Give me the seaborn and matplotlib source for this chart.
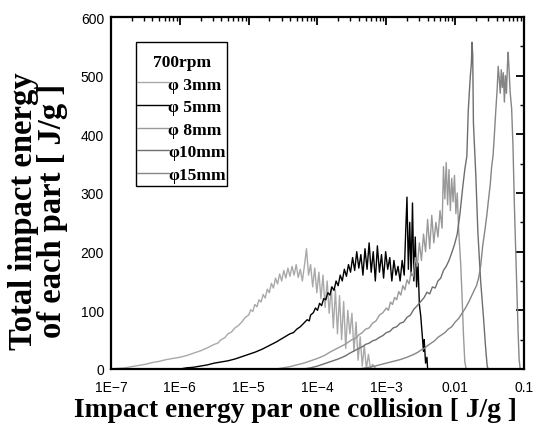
import numpy as np
import pandas as pd
import matplotlib
matplotlib.use("Agg")
import matplotlib.pyplot as plt
import seaborn as sns
from matplotlib.patches import Rectangle
from matplotlib.lines import Line2D
from matplotlib.ticker import LogLocator, NullFormatter, MultipleLocator, FixedLocator, FixedFormatter

# ---------------- data (log10 of impact energy, total impact energy) ----------------
series_names = ["φ 3mm", "φ 5mm", "φ 8mm", "φ10mm", "φ15mm"]
series_colors = ["#a9a9a9", "#000000", "#9a9a9a", "#6e6e6e", "#858585"]

log_e_3mm = [-7.00, -6.90, -6.80, -6.70, -6.60, -6.50, -6.40, -6.30, -6.20, -6.10, -6.00, -5.90, -5.80,
             -5.70, -5.60, -5.50, -5.45, -5.40, -5.35, -5.30, -5.25, -5.20, -5.15, -5.10, -5.05, -5.00,
             -4.97, -4.94, -4.91, -4.88, -4.85, -4.82, -4.79, -4.76, -4.73, -4.70, -4.67, -4.64, -4.61,
             -4.58, -4.55, -4.52, -4.49, -4.46, -4.43, -4.40, -4.37, -4.34, -4.31, -4.28, -4.25, -4.22,
             -4.19, -4.16, -4.13, -4.10, -4.07, -4.04, -4.01, -3.98, -3.95, -3.92, -3.89, -3.86, -3.83,
             -3.80, -3.77, -3.74, -3.71, -3.68, -3.65, -3.62, -3.59, -3.56, -3.53, -3.50, -3.47, -3.44,
             -3.41, -3.38, -3.35, -3.32, -3.29, -3.26, -3.23, -3.20, -3.15, -1.00]
total_3mm = [0, 1, 2, 4, 6, 8, 11, 13, 16, 18, 20, 23, 27,
             31, 36, 42, 44, 50, 53, 60, 63, 70, 74, 80, 88, 92,
             101, 98, 110, 106, 118, 114, 127, 121, 136, 130, 146, 138, 155,
             145, 162, 150, 168, 155, 172, 158, 175, 160, 178, 156, 170, 150,
             176, 205, 160, 178, 140, 172, 130, 165, 120, 160, 105, 150, 95,
             140, 70, 135, 60, 125, 50, 115, 35, 100, 60, 95, 30, 80,
             15, 55, 5, 40, 0, 25, 0, 8, 0, 0]

log_e_5mm = [-7.00, -6.00, -5.90, -5.80, -5.70, -5.60, -5.50, -5.40, -5.30, -5.20, -5.10, -5.00, -4.90,
             -4.80, -4.70, -4.60, -4.50, -4.40, -4.35, -4.30, -4.25, -4.20, -4.15, -4.12, -4.10, -4.06,
             -4.03, -4.00, -3.97, -3.94, -3.91, -3.88, -3.85, -3.82, -3.79, -3.76, -3.73, -3.70, -3.67,
             -3.64, -3.61, -3.58, -3.55, -3.52, -3.49, -3.46, -3.43, -3.40, -3.37, -3.34, -3.31, -3.28,
             -3.25, -3.22, -3.19, -3.16, -3.13, -3.10, -3.07, -3.04, -3.01, -2.98, -2.95, -2.92, -2.89,
             -2.86, -2.83, -2.80, -2.77, -2.74, -2.72, -2.70, -2.68, -2.66, -2.64, -2.62, -2.60, -2.58,
             -2.56, -2.54, -2.52, -2.50, -2.48, -2.46, -2.45, -2.43, -2.41, -2.40, -1.00]
total_5mm = [0, 0, 2, 3, 5, 7, 10, 12, 14, 17, 21, 25, 29,
             34, 40, 46, 53, 60, 62, 68, 72, 78, 84, 82, 92, 96,
             104, 100, 112, 108, 120, 118, 130, 126, 140, 134, 150, 142, 160,
             150, 170, 158, 178, 165, 190, 168, 200, 172, 195, 160, 205, 170,
             215, 165, 200, 150, 210, 165, 195, 155, 200, 170, 190, 150, 185,
             160, 175, 150, 185, 160, 230, 293, 170, 250, 160, 283, 150, 225,
             140, 180, 110, 90, 60, 30, 50, 10, 20, 0, 0]

log_e_8mm = [-7.00, -4.60, -4.50, -4.40, -4.30, -4.20, -4.10, -4.00, -3.90, -3.80, -3.70, -3.60, -3.50,
             -3.45, -3.40, -3.35, -3.30, -3.25, -3.20, -3.15, -3.10, -3.05, -3.00, -2.97, -2.94, -2.91,
             -2.88, -2.85, -2.82, -2.79, -2.76, -2.73, -2.70, -2.67, -2.64, -2.61, -2.58, -2.55, -2.52,
             -2.49, -2.46, -2.43, -2.40, -2.37, -2.34, -2.31, -2.28, -2.25, -2.22, -2.19, -2.17, -2.15,
             -2.13, -2.11, -2.09, -2.07, -2.05, -2.03, -2.01, -1.99, -1.97, -1.95, -1.92, -1.90, -1.88,
             -1.86, -1.84, -1.00]
total_8mm = [0, 0, 2, 4, 7, 10, 14, 18, 23, 30, 36, 42, 50,
             52, 58, 62, 68, 70, 78, 82, 92, 96, 104, 100, 114, 110,
             122, 118, 132, 126, 142, 135, 152, 145, 165, 158, 190, 175, 215,
             185, 230, 200, 255, 205, 262, 215, 250, 225, 270, 240, 345, 290,
             352, 280, 340, 270, 325, 285, 330, 265, 300, 238, 180, 125, 60,
             12, 0, 0]

log_e_10mm = [-7.00, -4.20, -4.10, -4.00, -3.90, -3.80, -3.70, -3.60, -3.53, -3.45, -3.40, -3.35, -3.30,
              -3.25, -3.20, -3.15, -3.10, -3.05, -3.00, -2.95, -2.90, -2.85, -2.80, -2.75, -2.70, -2.65,
              -2.60, -2.55, -2.50, -2.45, -2.41, -2.37, -2.33, -2.29, -2.25, -2.21, -2.17, -2.13, -2.09,
              -2.05, -2.01, -1.97, -1.93, -1.89, -1.86, -1.83, -1.81, -1.79, -1.78, -1.765, -1.755, -1.745,
              -1.735, -1.70, -1.67, -1.63, -1.59, -1.56, -1.535, -1.52, -1.00]
total_10mm = [0, 0, 2, 5, 9, 13, 17, 22, 27, 32, 35, 38, 42,
              44, 48, 50, 54, 57, 62, 64, 70, 72, 78, 80, 88, 92,
              102, 108, 115, 122, 131, 128, 140, 138, 150, 155, 168, 175, 185,
              198, 212, 230, 265, 310, 340, 363, 440, 480, 499, 520, 557, 535,
              420, 330, 233, 150, 90, 40, 5, 0, 0]

log_e_15mm = [-7.00, -3.40, -3.30, -3.20, -3.10, -3.00, -2.90, -2.80, -2.70, -2.60, -2.55, -2.50, -2.45,
              -2.40, -2.35, -2.30, -2.25, -2.20, -2.15, -2.10, -2.05, -2.00, -1.95, -1.90, -1.85, -1.80,
              -1.76, -1.72, -1.69, -1.66, -1.63, -1.60, -1.57, -1.54, -1.52, -1.49, -1.47, -1.45, -1.43,
              -1.41, -1.39, -1.375, -1.36, -1.345, -1.33, -1.315, -1.30, -1.285, -1.27, -1.255, -1.24, -1.23,
              -1.215, -1.20, -1.18, -1.16, -1.14, -1.12, -1.10, -1.085, -1.07, -1.055, -1.00]
total_15mm = [0, 0, 2, 4, 7, 10, 13, 16, 20, 25, 28, 32, 35,
              40, 44, 48, 54, 58, 62, 68, 72, 80, 86, 95, 104, 115,
              125, 135, 142, 155, 175, 210, 235, 262, 284, 315, 345, 363, 400,
              440, 477, 516, 495, 470, 510, 480, 505, 455, 500, 470, 520, 540,
              505, 470, 445, 380, 280, 200, 120, 60, 15, 0, 0]

x_tick_values = [1e-7, 1e-6, 1e-5, 1e-4, 1e-3, 1e-2, 1e-1]
x_tick_labels = ["1E−7", "1E−6", "1E−5", "1E−4", "1E−3", "0.01", "0.1"]
y_tick_values = [0, 100, 200, 300, 400, 500, 600]

# ---------------- build long-form table ----------------
frames = []
for name, le, tv in zip(series_names,
                        [log_e_3mm, log_e_5mm, log_e_8mm, log_e_10mm, log_e_15mm],
                        [total_3mm, total_5mm, total_8mm, total_10mm, total_15mm]):
    frames.append(pd.DataFrame({"energy": 10.0 ** np.array(le), "total": tv, "size": name}))
df = pd.concat(frames, ignore_index=True)

# ---------------- figure ----------------
sns.set_theme(style="white")
plt.rcParams['font.family'] = ['Liberation Sans', 'DejaVu Sans']
plt.rcParams['text.color'] = 'black'
plt.rcParams['xtick.color'] = 'black'
plt.rcParams['ytick.color'] = 'black'

fig = plt.figure(figsize=(5.36, 4.35), dpi=100)
ax = fig.add_axes([111 / 536, 1 - 370 / 435, 413 / 536, 352 / 435])

sns.lineplot(data=df, x="energy", y="total", hue="size", hue_order=series_names,
             palette=dict(zip(series_names, series_colors)), estimator=None, sort=False,
             linewidth=1.0, legend=False, ax=ax)

ax.set_xscale("log")
ax.set_xlim(1e-7, 1e-1)
ax.set_ylim(0, 600)
ax.xaxis.set_major_locator(FixedLocator(x_tick_values))
ax.xaxis.set_major_formatter(FixedFormatter(x_tick_labels))
ax.xaxis.set_minor_locator(LogLocator(base=10, subs=np.arange(2, 10)))
ax.xaxis.set_minor_formatter(NullFormatter())
ax.yaxis.set_major_locator(FixedLocator(y_tick_values))
ax.yaxis.set_minor_locator(MultipleLocator(50))

ax.tick_params(which="both", direction="in", top=True, right=True, colors="black",
               labelcolor="black")
ax.tick_params(which="major", length=6, width=1.3, labelsize=10)
ax.tick_params(axis="x", which="major", pad=8)
ax.tick_params(axis="y", which="major", pad=5)
ax.tick_params(which="minor", length=3, width=1.0)
for sp in ax.spines.values():
    sp.set_color("black")
    sp.set_linewidth(1.6)

ax.set_xlabel("")
ax.set_ylabel("")
serif = ['Liberation Serif', 'DejaVu Serif']
fig.text(0.5 * (73 + 518) / 536, 1 - 411 / 435, "Impact energy par one collision [ J/g ]",
         family=serif, weight="bold", fontsize=19.8, ha="center", va="center", color="black")
fig.text(38 / 536, 1 - 211 / 435, "Total impact energy\nof each part [ J/g ]",
         family=serif, weight="bold", fontsize=23.5, ha="center", va="center", color="black",
         rotation=90, linespacing=0.88, multialignment="center")

# legend
handles = [Line2D([0], [0], color=c, lw=1.0) for c in series_colors]
leg = ax.legend(handles, series_names, title="700rpm", loc="upper left",
                bbox_to_anchor=((137 - 111) / 413, (370 - 55) / 352),
                frameon=False, prop={"family": serif, "weight": "bold", "size": 12.6},
                handlelength=1.8, handletextpad=0.0, labelspacing=0.36, borderaxespad=0,
                borderpad=0.0)
leg.get_title().set_fontfamily(serif)
leg.get_title().set_fontweight("bold")
leg.get_title().set_fontsize(12.6)
leg.get_title().set_color("black")
for t in leg.get_texts():
    t.set_color("black")
ax.add_patch(Rectangle(((136 - 111) / 413, (370 - 187) / 352), 91 / 413, 144 / 352,
                       transform=ax.transAxes, fill=False, edgecolor="black", lw=1.0, zorder=5))

fig.savefig("out.png", dpi=100, facecolor="white")
